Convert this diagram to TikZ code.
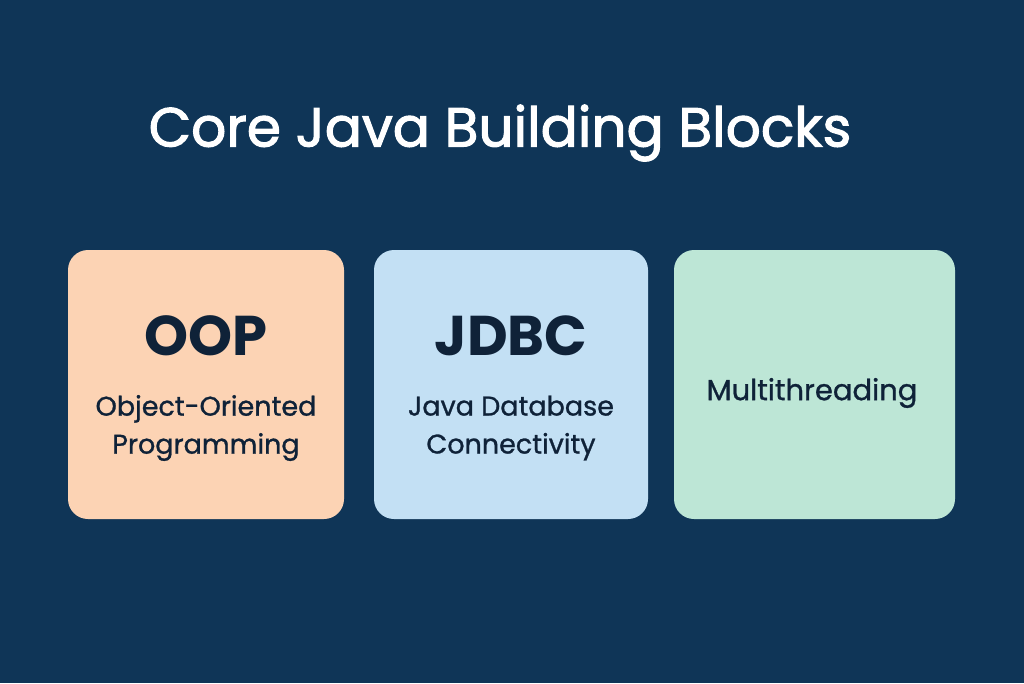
\documentclass[tikz,border=0pt]{standalone}
\usepackage{fontspec}
\setmainfont{Poppins}
\newfontfamily\medfont[FakeBold=2]{Poppins}
\newfontfamily\subfont[FakeBold=1]{Poppins}
\definecolor{bg}{HTML}{0F3557}
\definecolor{cA}{HTML}{FCD3B4}
\definecolor{cB}{HTML}{C3E0F4}
\definecolor{cC}{HTML}{BDE6D6}
\definecolor{tx}{HTML}{0F2238}
\begin{document}
\begin{tikzpicture}[x=1pt,y=-1pt,
  card/.style={rounded corners=20pt,draw=none},
  big/.style={text=tx,font=\fontsize{56}{60}\selectfont\bfseries},
  sub/.style={text=tx,font=\subfont\fontsize{27}{38}\selectfont,align=center}]
\fill[bg] (0,0) rectangle (1024,683);
\useasboundingbox (0,0) rectangle (1024,683);
\node[text=white,font=\medfont\fontsize{55}{60}\selectfont] (title) at (500,133) {Core Java Building Blocks};
\fill[card,cA] (68,250) rectangle (344,519);
\fill[card,cB] (374,250) rectangle (648,519);
\fill[card,cC] (674,250) rectangle (955,519);
\node[big] (oop) at (206,336) {OOP};
\node[sub] (oops) at (206,428) {Object-Oriented\\Programming};
\node[big] (jdbc) at (511,336) {JDBC};
\node[sub] (jdbcs) at (511,428) {Java Database\\Connectivity};
\node[sub,font=\subfont\fontsize{29}{38}\selectfont] (mt) at (812,393) {Multithreading};
\end{tikzpicture}
\end{document}
